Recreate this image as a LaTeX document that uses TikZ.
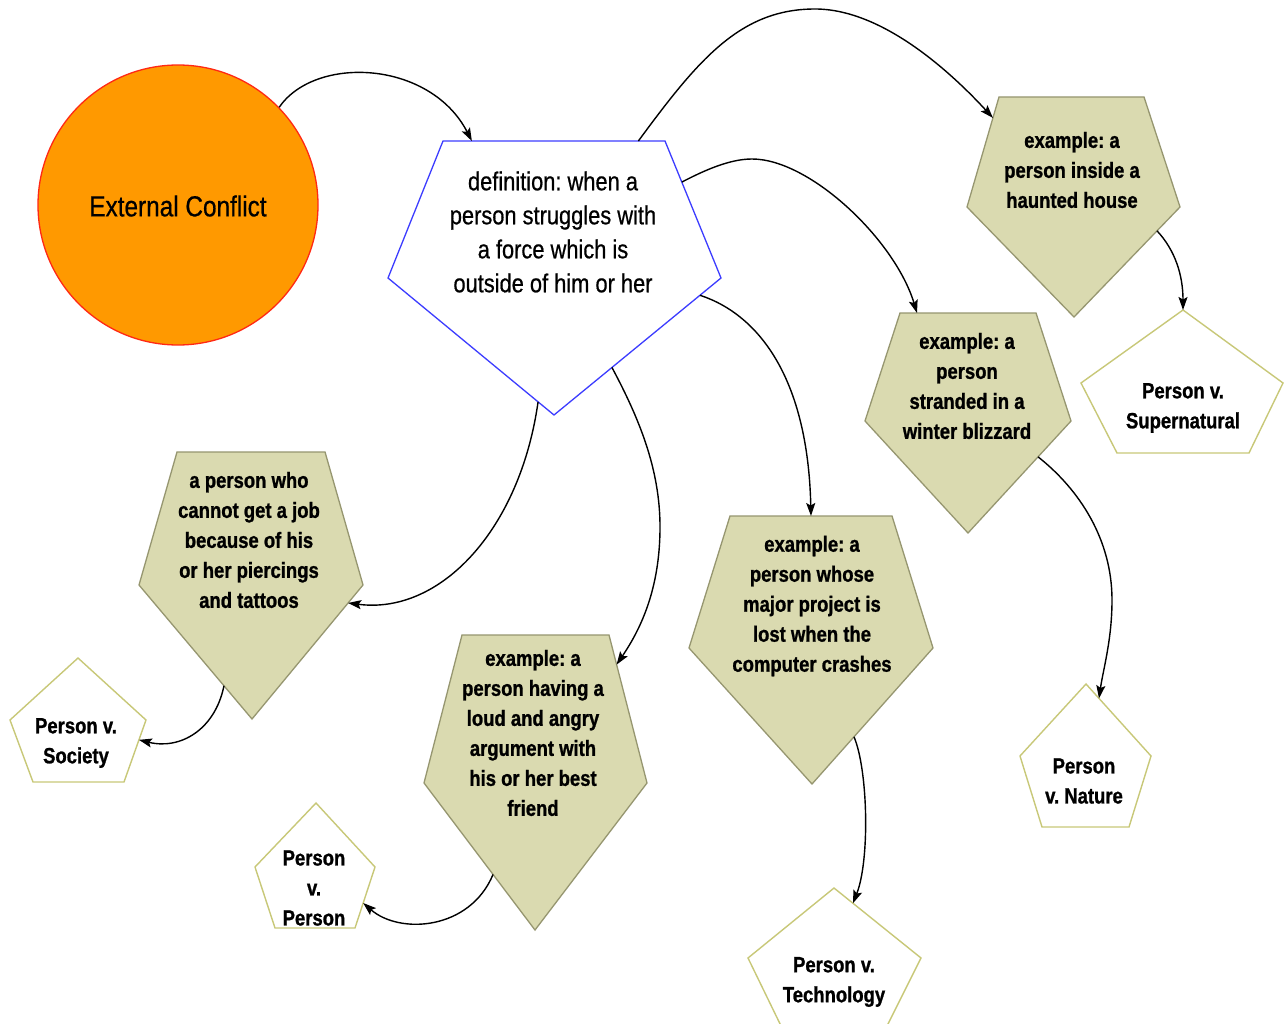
\documentclass[tikz,border=0pt]{standalone}
\usepackage{fontspec}
\newfontfamily\narr[FakeStretch=0.84,FakeBold=0.6,BoldFeatures={FakeBold=1.0}]{Liberation Sans}
\usetikzlibrary{arrows.meta,calc}
\definecolor{khaki}{RGB}{218,218,176}
\definecolor{khakiline}{RGB}{150,150,112}
\definecolor{wline}{RGB}{200,200,120}
\definecolor{defblue}{RGB}{60,60,255}
\definecolor{ecfill}{RGB}{255,153,0}
\definecolor{ecline}{RGB}{255,40,20}
\frenchspacing
\newcommand{\mypent}[7]{%
  \path[#1] #3 coordinate (#2-1) -- #4 coordinate (#2-2) -- #5 coordinate (#2-3)
    -- #6 coordinate (#2-4) -- #7 coordinate (#2-5) -- cycle;}
\begin{document}
\begin{tikzpicture}[x=1pt,y=-1pt,
  conn/.style={draw=black, line width=1.4pt, -{Stealth[length=13pt,width=9pt,inset=2.5pt]}},
  kshape/.style={fill=khaki, draw=khakiline, line width=1.3pt},
  wshape/.style={fill=white, draw=wline, line width=1.4pt},
  dshape/.style={fill=white, draw=defblue, line width=1.3pt},
  ktext/.style={align=center, inner sep=0pt, font=\narr\bfseries\fontsize{22}{30}\selectfont\frenchspacing},
  dtext/.style={align=center, inner sep=0pt, font=\narr\fontsize{26}{34}\selectfont\frenchspacing},
  ectext/.style={align=center, inner sep=0pt, font=\narr\fontsize{29}{34}\selectfont}]
\useasboundingbox (0,0) rectangle (1287,1024);
\fill[white] (0,0) rectangle (1287,1024);

% circle
\node[circle, minimum size=280pt, inner sep=0pt, fill=ecfill, draw=ecline, line width=1.3pt] (ec) at (178,205) {};
\node[ectext] (ect) at (178,206) {External Conflict};

% definition
\mypent{dshape}{def}{(443,141)}{(665,141)}{(721,278)}{(554,415)}{(388,278)}
\node[dtext] (deft) at (553,232) {definition: when a\\person struggles with\\a force which is\\ outside of him or her};

% khaki pentagons
\mypent{kshape}{hh}{(999,97)}{(1144,97)}{(1180,207)}{(1074,317)}{(967,207)}
\node[ktext] (hht) at (1072,170) {example: a\\person inside a\\haunted house};

\mypent{kshape}{bz}{(900,313)}{(1036,313)}{(1071,421)}{(968,533)}{(865,421)}
\node[ktext] (bzt) at (967,386) {example: a\\person\\stranded in a\\winter blizzard};

\mypent{kshape}{pc}{(177,452)}{(325,452)}{(363,585)}{(252,719)}{(139,585)}
\node[ktext] (pct) at (249,540) {a person who\\cannot get a job\\because of his\\or her piercings\\and tattoos};

\mypent{kshape}{ar}{(462,635)}{(609,635)}{(647,783)}{(535,930)}{(424,783)}
\node[ktext] (art) at (533,733) {example: a\\person having a\\loud and angry\\argument with\\his or her best\\friend};

\mypent{kshape}{tk}{(730,516)}{(892,516)}{(933,648)}{(812,784)}{(689,648)}
\node[ktext] (tkt) at (812,606) {example: a\\person whose\\major project is\\lost when the\\computer crashes};

% white pentagons
\mypent{wshape}{sn}{(1183,310)}{(1283,383)}{(1249,453)}{(1117,453)}{(1081,383)}
\node[ktext] (snt) at (1183,408) {Person v.\\Supernatural};

\mypent{wshape}{na}{(1086,684)}{(1151,756)}{(1129,827)}{(1042,827)}{(1020,756)}
\node[ktext] (nat) at (1084,781) {Person\\v. Nature};

\mypent{wshape}{so}{(78,658)}{(146,720)}{(124,782)}{(33,782)}{(10,720)}
\node[ktext] (sot) at (76,743) {Person v.\\Society};

\mypent{wshape}{pp}{(316,803)}{(375,867)}{(355,928)}{(275,928)}{(255,867)}
\node[ktext] (ppt) at (314,888) {Person\\v.\\Person};

\mypent{wshape}{tw}{(834,888)}{(921,958)}{(885,1030)}{(783,1030)}{(748,958)}
\node[ktext] (twt) at (834,982) {Person v.\\Technology};

% connector end points on the shape borders
\coordinate (a2) at ($(def-1)!0.13!(def-2)$);
\coordinate (b1) at ($(def-1)!0.88!(def-2)$);
\coordinate (b2) at ($(hh-1)!0.19!(hh-5)$);
\coordinate (c1) at ($(def-2)!0.30!(def-3)$);
\coordinate (c2) at ($(bz-1)!0.125!(bz-2)$);
\coordinate (d1) at ($(def-3)!0.126!(def-4)$);
\coordinate (d2) at ($(tk-1)!0.5!(tk-2)$);
\coordinate (e1) at ($(def-3)!0.653!(def-4)$);
\coordinate (e2) at ($(ar-2)!0.2!(ar-3)$);
\coordinate (f1) at ($(def-4)!0.096!(def-5)$);
\coordinate (f2) at ($(pc-3)!0.134!(pc-4)$);
\coordinate (g1) at ($(hh-3)!0.217!(hh-4)$);
\coordinate (h1) at ($(bz-3)!0.32!(bz-4)$);
\coordinate (h2) at ($(na-1)!0.2!(na-2)$);
\coordinate (i1) at ($(tk-3)!0.653!(tk-4)$);
\coordinate (i2) at ($(tw-1)!0.218!(tw-2)$);
\coordinate (j1) at ($(ar-4)!0.378!(ar-5)$);
\coordinate (j2) at ($(pp-2)!0.59!(pp-3)$);
\coordinate (k1) at ($(pc-4)!0.248!(pc-5)$);
\coordinate (k2) at ($(so-2)!0.32!(so-3)$);

% connectors
\draw[conn] (ec.44) .. controls (315,55) and (430,60) .. (a2);
\draw[conn] (b1) .. controls (698,60) and (740,9) .. (815,9) .. controls (880,9) and (947,68) .. (b2);
\draw[conn] (c1) .. controls (705,170) and (730,159) .. (752,159) .. controls (810,159) and (895,240) .. (c2);
\draw[conn] (d1) .. controls (760,315) and (808,380) .. (d2);
\draw[conn] (e1) .. controls (640,420) and (660,470) .. (660,527) .. controls (660,590) and (640,630) .. (e2);
\draw[conn] (f1) .. controls (520,530) and (440,615) .. (f2);
\draw[conn] (g1) .. controls (1175,250) and (1183,275) .. (sn-1);
\draw[conn] (h1) .. controls (1080,490) and (1112,540) .. (1112,600) .. controls (1112,640) and (1103,670) .. (h2);
\draw[conn] (i1) .. controls (868,770) and (870,860) .. (i2);
\draw[conn] (j1) .. controls (470,930) and (400,935) .. (j2);
\draw[conn] (k1) .. controls (215,730) and (180,750) .. (k2);
\end{tikzpicture}
\end{document}
